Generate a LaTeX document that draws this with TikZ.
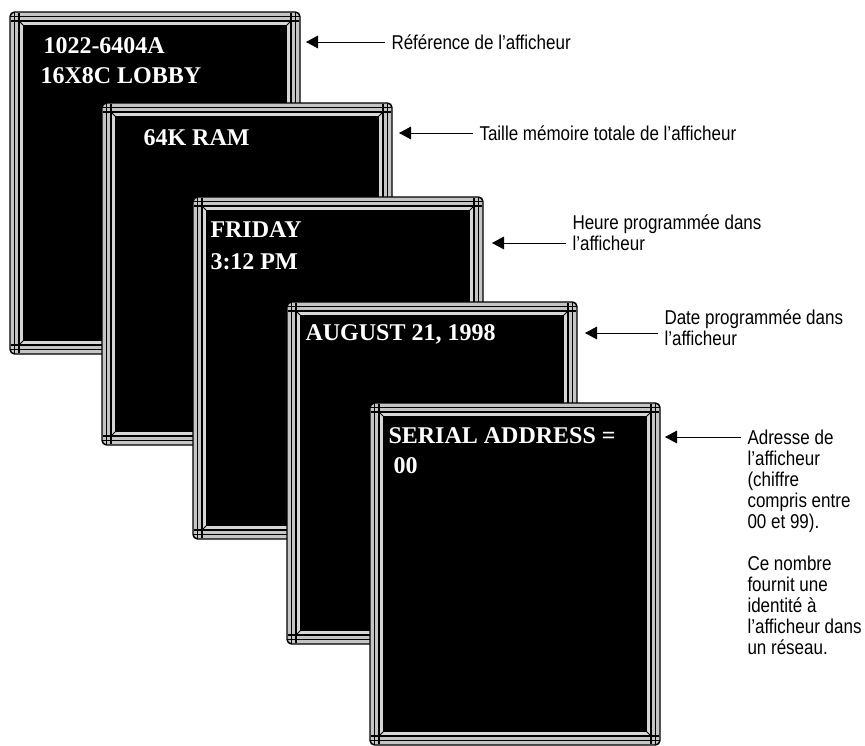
\documentclass[tikz,border=0pt]{standalone}
\usepackage{fontspec}
\setmainfont{Liberation Serif}
\newfontfamily\legendfont[FakeStretch=0.85]{Liberation Sans}
\usetikzlibrary{arrows.meta}

\definecolor{framegray}{RGB}{196,196,196}
\definecolor{bevelgray}{RGB}{214,214,214}

\tikzset{every picture/.style={line width=0.75pt}}
\tikzset{
  ecran/.style={text=white, font=\bfseries\fontsize{18}{22}\selectfont, inner sep=0pt, anchor=base west},
  legende/.style={font=\legendfont\fontsize{15}{15.75}\selectfont, inner sep=0.75pt, anchor=west, align=left},
  fleche/.style={-{Triangle[length=9pt,width=9.5pt]}, line width=0.75pt, shorten <=4pt}
}

% one display with its frame, top left corner at (#1,#2)
\newcommand{\afficheur}[2]{%
  \begin{scope}[shift={(#1,#2)}]
    %outer frame
    \draw [fill=framegray, line width=1.1pt, rounded corners=3.5pt] (0,0) rectangle (290,342) ;
    %band lines, crossing at the corners
    \draw [line width=0.9pt] (1,4.5) -- (289,4.5) (1,9) -- (289,9) (1,337.5) -- (289,337.5) (1,333) -- (289,333) ;
    \draw [line width=0.9pt] (4.5,1) -- (4.5,341) (9,1) -- (9,341) (285.5,1) -- (285.5,341) (281,1) -- (281,341) ;
    %bevel
    \draw [fill=bevelgray, line width=0.9pt] (9,9) rectangle (281,333) ;
    \draw [line width=0.6pt] (9,9) -- (14,14) (281,9) -- (276,14) (9,333) -- (14,328) (281,333) -- (276,328) ;
    %screen
    \draw [fill=black, line width=0.9pt] (14,14) rectangle (276,328) ;
  \end{scope}}

\begin{document}
\begin{tikzpicture}[x=0.75pt,y=0.75pt,yscale=-1,xscale=1]
\useasboundingbox (0,0) rectangle (865,746);

%Afficheur 1
\afficheur{10}{12}
% Text Node
\draw (43,53) node (ref) [ecran] {1022-6404A};
% Text Node
\draw (40,83) node (lobby) [ecran] {16X8C LOBBY};

%Afficheur 2
\afficheur{102}{103}
% Text Node
\draw (143,145) node (ram) [ecran] {64K RAM};

%Afficheur 3
\afficheur{193}{197}
% Text Node
\draw (210,237) node (jour) [ecran] {FRIDAY};
% Text Node
\draw (210,269) node (heure) [ecran] {3:12 PM};

%Afficheur 4
\afficheur{287}{302}
% Text Node
\draw (305,340) node (date) [ecran] {AUGUST 21, 1998};

%Afficheur 5
\afficheur{370}{403}
% Text Node
\draw (388,443) node (serial) [ecran] {SERIAL ADDRESS =};
% Text Node
\draw (393,473) node (adr) [ecran] {00};

%Arrow tips on the frames
\coordinate (t1) at (306,42);
\coordinate (t2) at (399,133);
\coordinate (t3) at (492,243);
\coordinate (t4) at (585,333);
\coordinate (t5) at (665,437);

% Text Node
\draw (390,42) node (l1) [legende] {Référence de l’afficheur};
% Text Node
\draw (478,133) node (l2) [legende] {Taille mémoire totale de l’afficheur};
% Text Node
\draw (571,232.5) node (l3) [legende] {Heure programmée dans\\l’afficheur};
% Text Node
\draw (663,327.5) node (l4) [legende] {Date programmée dans\\l’afficheur};
% Text Node
\draw (746,429) node (l5) [legende, anchor=north west] {Adresse de\\l’afficheur\\(chiffre\\compris entre\\00 et 99).\\[15.75pt]Ce nombre\\fournit une\\identité à\\l’afficheur dans\\un réseau.};

%Straight Lines
\draw [fleche] (t1 -| l1.west) -- (t1) ;
\draw [fleche] (t2 -| l2.west) -- (t2) ;
\draw [fleche] (t3 -| l3.west) -- (t3) ;
\draw [fleche] (t4 -| l4.west) -- (t4) ;
\draw [fleche] (t5 -| l5.west) -- (t5) ;

\end{tikzpicture}
\end{document}
